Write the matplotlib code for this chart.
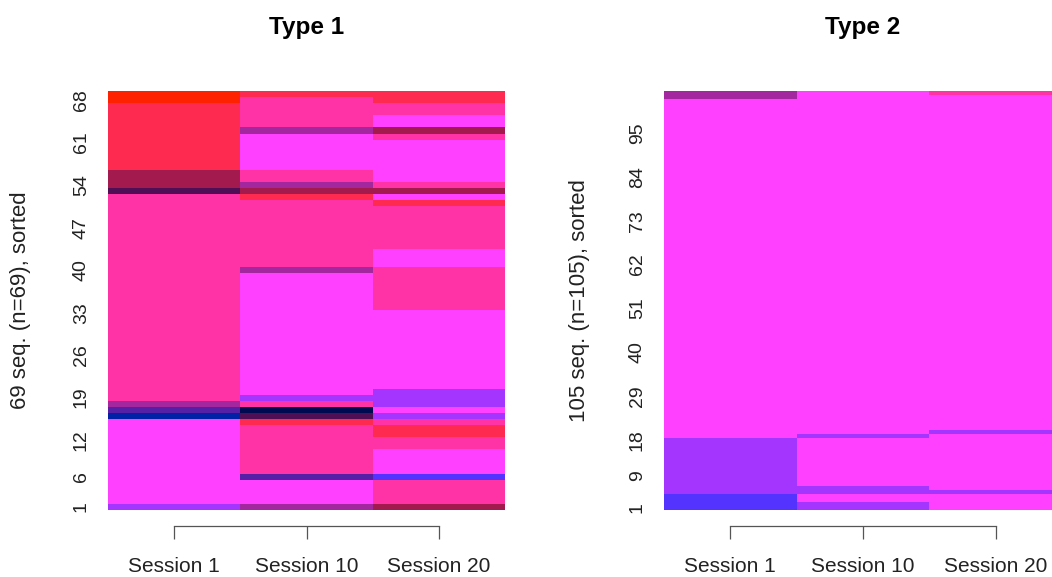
import numpy as np
import matplotlib.pyplot as plt
from matplotlib.colors import ListedColormap

plt.rcParams["font.family"] = ["Liberation Sans", "DejaVu Sans"]

# state palette (states are the colour categories of the sequence plot)
states = ["orange_red", "crimson", "hot_pink", "magenta", "purple",
          "dark_magenta", "dark_crimson", "dark_purple", "indigo",
          "navy", "blue", "blue_violet"]
state_colors = ["#FF2200", "#FF2A50", "#FF33A5", "#FF40FF", "#A335FF",
                "#A3279F", "#A31A4F", "#500F55", "#5520A5",
                "#000A50", "#0020A5", "#5533FF"]

sessions = ["Session 1", "Session 10", "Session 20"]

# runs of (state, number of sequences), listed from the bottom row upward
type1_s1 = [("purple", 1), ("magenta", 14), ("blue", 1), ("indigo", 1),
            ("dark_magenta", 1), ("hot_pink", 34), ("dark_purple", 1),
            ("dark_crimson", 3), ("crimson", 11), ("orange_red", 2)]
type1_s10 = [("dark_magenta", 1), ("magenta", 4), ("indigo", 1), ("hot_pink", 8),
             ("crimson", 1), ("dark_purple", 1), ("navy", 1), ("hot_pink", 1),
             ("purple", 1), ("magenta", 20), ("dark_magenta", 1), ("hot_pink", 11),
             ("crimson", 1), ("dark_crimson", 1), ("dark_magenta", 1),
             ("hot_pink", 2), ("magenta", 6), ("dark_magenta", 1),
             ("hot_pink", 5), ("crimson", 1)]
type1_s20 = [("dark_crimson", 1), ("hot_pink", 4), ("blue_violet", 1), ("magenta", 4),
             ("hot_pink", 2), ("crimson", 2), ("hot_pink", 1), ("purple", 1),
             ("magenta", 1), ("purple", 3), ("magenta", 13), ("hot_pink", 7),
             ("magenta", 3), ("hot_pink", 7), ("crimson", 1), ("magenta", 1),
             ("dark_crimson", 1), ("hot_pink", 1), ("magenta", 7), ("hot_pink", 1),
             ("dark_crimson", 1), ("magenta", 2), ("hot_pink", 2), ("crimson", 2)]

type2_s1 = [("blue_violet", 4), ("purple", 14), ("magenta", 85), ("dark_magenta", 2)]
type2_s10 = [("purple", 2), ("magenta", 2), ("purple", 2), ("magenta", 12),
             ("purple", 1), ("magenta", 86)]
type2_s20 = [("magenta", 4), ("purple", 1), ("magenta", 14), ("purple", 1),
             ("magenta", 84), ("hot_pink", 1)]

type1_ticks = [1, 6, 12, 19, 26, 33, 40, 47, 54, 61, 68]
type2_ticks = [1, 9, 18, 29, 40, 51, 62, 73, 84, 95]


def expand(runs):
    codes = []
    for name, n in runs:
        codes += [states.index(name)] * n
    return codes


def seq_plot(ax, columns, yticks, title, ylabel, ylab_x):
    grid = np.array([expand(c) for c in columns]).T
    n = grid.shape[0]
    cmap = ListedColormap(state_colors)
    ax.pcolormesh(np.arange(len(columns) + 1), np.arange(n + 1), grid,
                  cmap=cmap, vmin=-0.5, vmax=len(states) - 0.5)
    ax.set_xlim(0, len(columns))
    ax.set_ylim(0, n)

    for side in ["top", "right", "left"]:
        ax.spines[side].set_visible(False)
    ax.spines["bottom"].set_position(("outward", 11.5))
    ax.spines["bottom"].set_bounds(0.5, len(columns) - 0.5)
    ax.spines["bottom"].set_color("#555555")
    ax.spines["bottom"].set_linewidth(0.9)

    ax.set_xticks(np.arange(len(columns)) + 0.5)
    ax.set_xticklabels(sessions, fontsize=15, color="#222222")
    ax.tick_params(axis="x", length=9, width=0.9, color="#555555", pad=13)

    ax.set_yticks(np.array(yticks) - 0.5)
    ax.set_yticklabels([str(t) for t in yticks], fontsize=14, color="#222222",
                       rotation=90, va="center")
    ax.tick_params(axis="y", length=0, pad=13)

    ax.set_title(title, fontsize=17.5, fontweight="bold", pad=41)
    ax.set_ylabel(ylabel, fontsize=16, color="#222222")
    ax.yaxis.set_label_coords(ylab_x, 0.5)


fig = plt.figure(figsize=(10.52, 5.77), dpi=100)
ax1 = fig.add_axes([108 / 1052, 67 / 577, 397 / 1052, 419 / 577])
ax2 = fig.add_axes([664 / 1052, 67 / 577, 398 / 1052, 419 / 577])

seq_plot(ax1, [type1_s1, type1_s10, type1_s20], type1_ticks,
         "Type 1", "69 seq. (n=69), sorted", -0.195)
seq_plot(ax2, [type2_s1, type2_s10, type2_s20], type2_ticks,
         "Type 2", "105 seq. (n=105), sorted", -0.186)

fig.savefig("out.png", dpi=100)
